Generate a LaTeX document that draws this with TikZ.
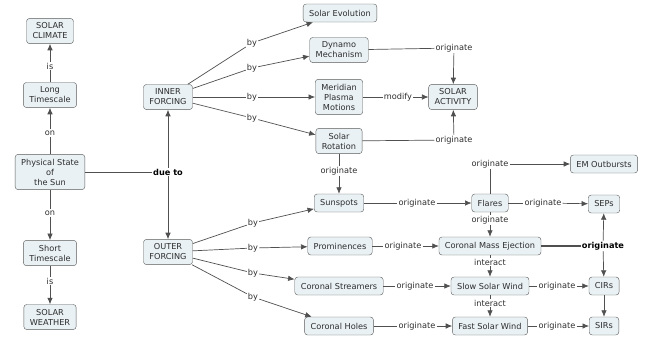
\documentclass[tikz,border=0pt]{standalone}
\usepackage{fontspec}
\setmainfont{DejaVu Sans}
\usetikzlibrary{arrows.meta}

\definecolor{boxfill}{RGB}{233,241,244}
\definecolor{boxline}{RGB}{90,90,90}
\definecolor{linkgray}{RGB}{80,80,80}
\definecolor{textgray}{RGB}{45,45,45}

\begin{document}
\begin{tikzpicture}[x=1pt,y=-1pt,
  concept/.style={draw=boxline,fill=boxfill,rounded corners=3pt,align=center,inner xsep=6pt,inner ysep=4.5pt,minimum height=18pt,text=textgray,font=\fontsize{8.2}{10}\selectfont},
  phrase/.style={inner sep=1pt,text=textgray,font=\fontsize{8.2}{10}\selectfont},
  link/.style={draw=linkgray,line width=0.7pt},
  >={Latex[length=6.5pt,width=5.5pt]}]
\useasboundingbox (0,0) rectangle (647,338);

% left column
\node[concept](climate) at (50,31){SOLAR\\CLIMATE};
\node[concept](longts) at (50,95){Long\\Timescale};
\node[concept](phys) at (50,172){Physical State\\of\\the Sun};
\node[concept](shortts) at (50,253){Short\\Timescale};
\node[concept](weather) at (50,317){SOLAR\\WEATHER};
\node[phrase](is-top) at (50,66){is};
\node[phrase](on-top) at (50,133){on};
\node[phrase](on-bot) at (50,213){on};
\node[phrase](is-bot) at (50,281){is};

\node[concept](inner) at (168,97){INNER\\FORCING};
\node[concept](outer) at (168,252){OUTER\\FORCING};
\node[phrase,font=\fontsize{8.2}{10}\selectfont\bfseries,text=black](dueto) at (168,172){due to};

% inner forcing
\node[concept](evol) at (340,13){Solar Evolution};
\node[concept](dynamo) at (339,50){Dynamo\\Mechanism};
\node[concept](merid) at (339,97){Meridian\\Plasma\\Motions};
\node[concept](rotation) at (339,141){Solar\\Rotation};
\node[concept](activity) at (453,97){SOLAR\\ACTIVITY};
\node[phrase](by-in1) at (252,43){by};
\node[phrase](by-in2) at (252,68){by};
\node[phrase](by-in3) at (252,97){by};
\node[phrase](by-in4) at (252,118){by};
\node[phrase](orig-dyn) at (454,48){originate};
\node[phrase](modify) at (398,97){modify};
\node[phrase](orig-rot) at (454,140){originate};
\node[phrase](orig-spot) at (339,171){originate};

% outer forcing
\node[concept](sunspots) at (339,203){Sunspots};
\node[concept](promin) at (340,246){Prominences};
\node[concept](streamers) at (339,286){Coronal Streamers};
\node[concept](holes) at (339,326){Coronal Holes};
\node[phrase](by-out1) at (253,223){by};
\node[phrase](by-out2) at (253,248){by};
\node[phrase](by-out3) at (253,273){by};
\node[phrase](by-out4) at (253,297){by};

% right part
\node[concept](em) at (604,164){EM Outbursts};
\node[concept](flares) at (490,203){Flares};
\node[concept](seps) at (604,204){SEPs};
\node[concept](cme) at (490,246){Coronal Mass Ejection};
\node[concept](slow) at (490,286){Slow Solar Wind};
\node[concept](fast) at (490,326){Fast Solar Wind};
\node[concept](cirs) at (604,286){CIRs};
\node[concept](sirs) at (604,326){SIRs};
\node[phrase](orig-em) at (490,164){originate};
\node[phrase](orig-sf) at (417,203){originate};
\node[phrase](orig-fs) at (543,203){originate};
\node[phrase](orig-fc) at (490,220){originate};
\node[phrase](orig-pc) at (403,246){originate};
\node[phrase,font=\fontsize{8.2}{10}\selectfont\bfseries,text=black](orig-cme) at (603,246){originate};
\node[phrase](inter1) at (490,262){interact};
\node[phrase](orig-ss) at (415,286){originate};
\node[phrase](orig-sc) at (557,286){originate};
\node[phrase](inter2) at (490,303){interact};
\node[phrase](orig-hf) at (417,326){originate};
\node[phrase](orig-fsir) at (557,326){originate};

% links
\draw[link] (longts) -- (is-top); \draw[link,->] (is-top) -- (climate);
\draw[link] (phys) -- (on-top); \draw[link,->] (on-top) -- (longts);
\draw[link] (phys) -- (on-bot); \draw[link,->] (on-bot) -- (shortts);
\draw[link] (shortts) -- (is-bot); \draw[link,->] (is-bot) -- (weather);
\draw[link] (phys) -- (dueto);
\draw[link,->] (dueto) -- (inner); \draw[link,->] (dueto) -- (outer);

\draw[link] (inner) -- (by-in1); \draw[link,->] (by-in1) -- (evol);
\draw[link] (inner) -- (by-in2); \draw[link,->] (by-in2) -- (dynamo);
\draw[link] (inner) -- (by-in3); \draw[link,->] (by-in3) -- (merid);
\draw[link] (inner) -- (by-in4); \draw[link,->] (by-in4) -- (rotation);
\draw[link] (dynamo) -- (orig-dyn); \draw[link,->] (orig-dyn) -- (activity);
\draw[link] (merid) -- (modify); \draw[link,->] (modify) -- (activity);
\draw[link] (rotation) -- (orig-rot); \draw[link,->] (orig-rot) -- (activity);
\draw[link] (rotation) -- (orig-spot); \draw[link,->] (orig-spot) -- (sunspots);

\draw[link] (outer) -- (by-out1); \draw[link,->] (by-out1) -- (sunspots);
\draw[link] (outer) -- (by-out2); \draw[link,->] (by-out2) -- (promin);
\draw[link] (outer) -- (by-out3); \draw[link,->] (by-out3) -- (streamers);
\draw[link] (outer) -- (by-out4); \draw[link,->] (by-out4) -- (holes);

\draw[link] (flares) -- (orig-em); \draw[link,->] (orig-em) -- (em);
\draw[link] (sunspots) -- (orig-sf); \draw[link,->] (orig-sf) -- (flares);
\draw[link] (flares) -- (orig-fs); \draw[link,->] (orig-fs) -- (seps);
\draw[link] (flares) -- (orig-fc); \draw[link,->] (orig-fc) -- (cme);
\draw[link] (promin) -- (orig-pc); \draw[link,->] (orig-pc) -- (cme);
\draw[link,line width=1.6pt] (cme) -- (orig-cme);
\draw[link,->] (orig-cme) -- (seps); \draw[link,->] (orig-cme) -- (cirs);
\draw[link] (cme) -- (inter1); \draw[link,->] (inter1) -- (slow);
\draw[link] (streamers) -- (orig-ss); \draw[link,->] (orig-ss) -- (slow);
\draw[link] (slow) -- (orig-sc); \draw[link,->] (orig-sc) -- (cirs);
\draw[link] (slow) -- (inter2); \draw[link,->] (inter2) -- (fast);
\draw[link] (holes) -- (orig-hf); \draw[link,->] (orig-hf) -- (fast);
\draw[link] (fast) -- (orig-fsir); \draw[link,->] (orig-fsir) -- (sirs);
\draw[link,->] (cirs) -- (sirs);

\end{tikzpicture}
\end{document}
